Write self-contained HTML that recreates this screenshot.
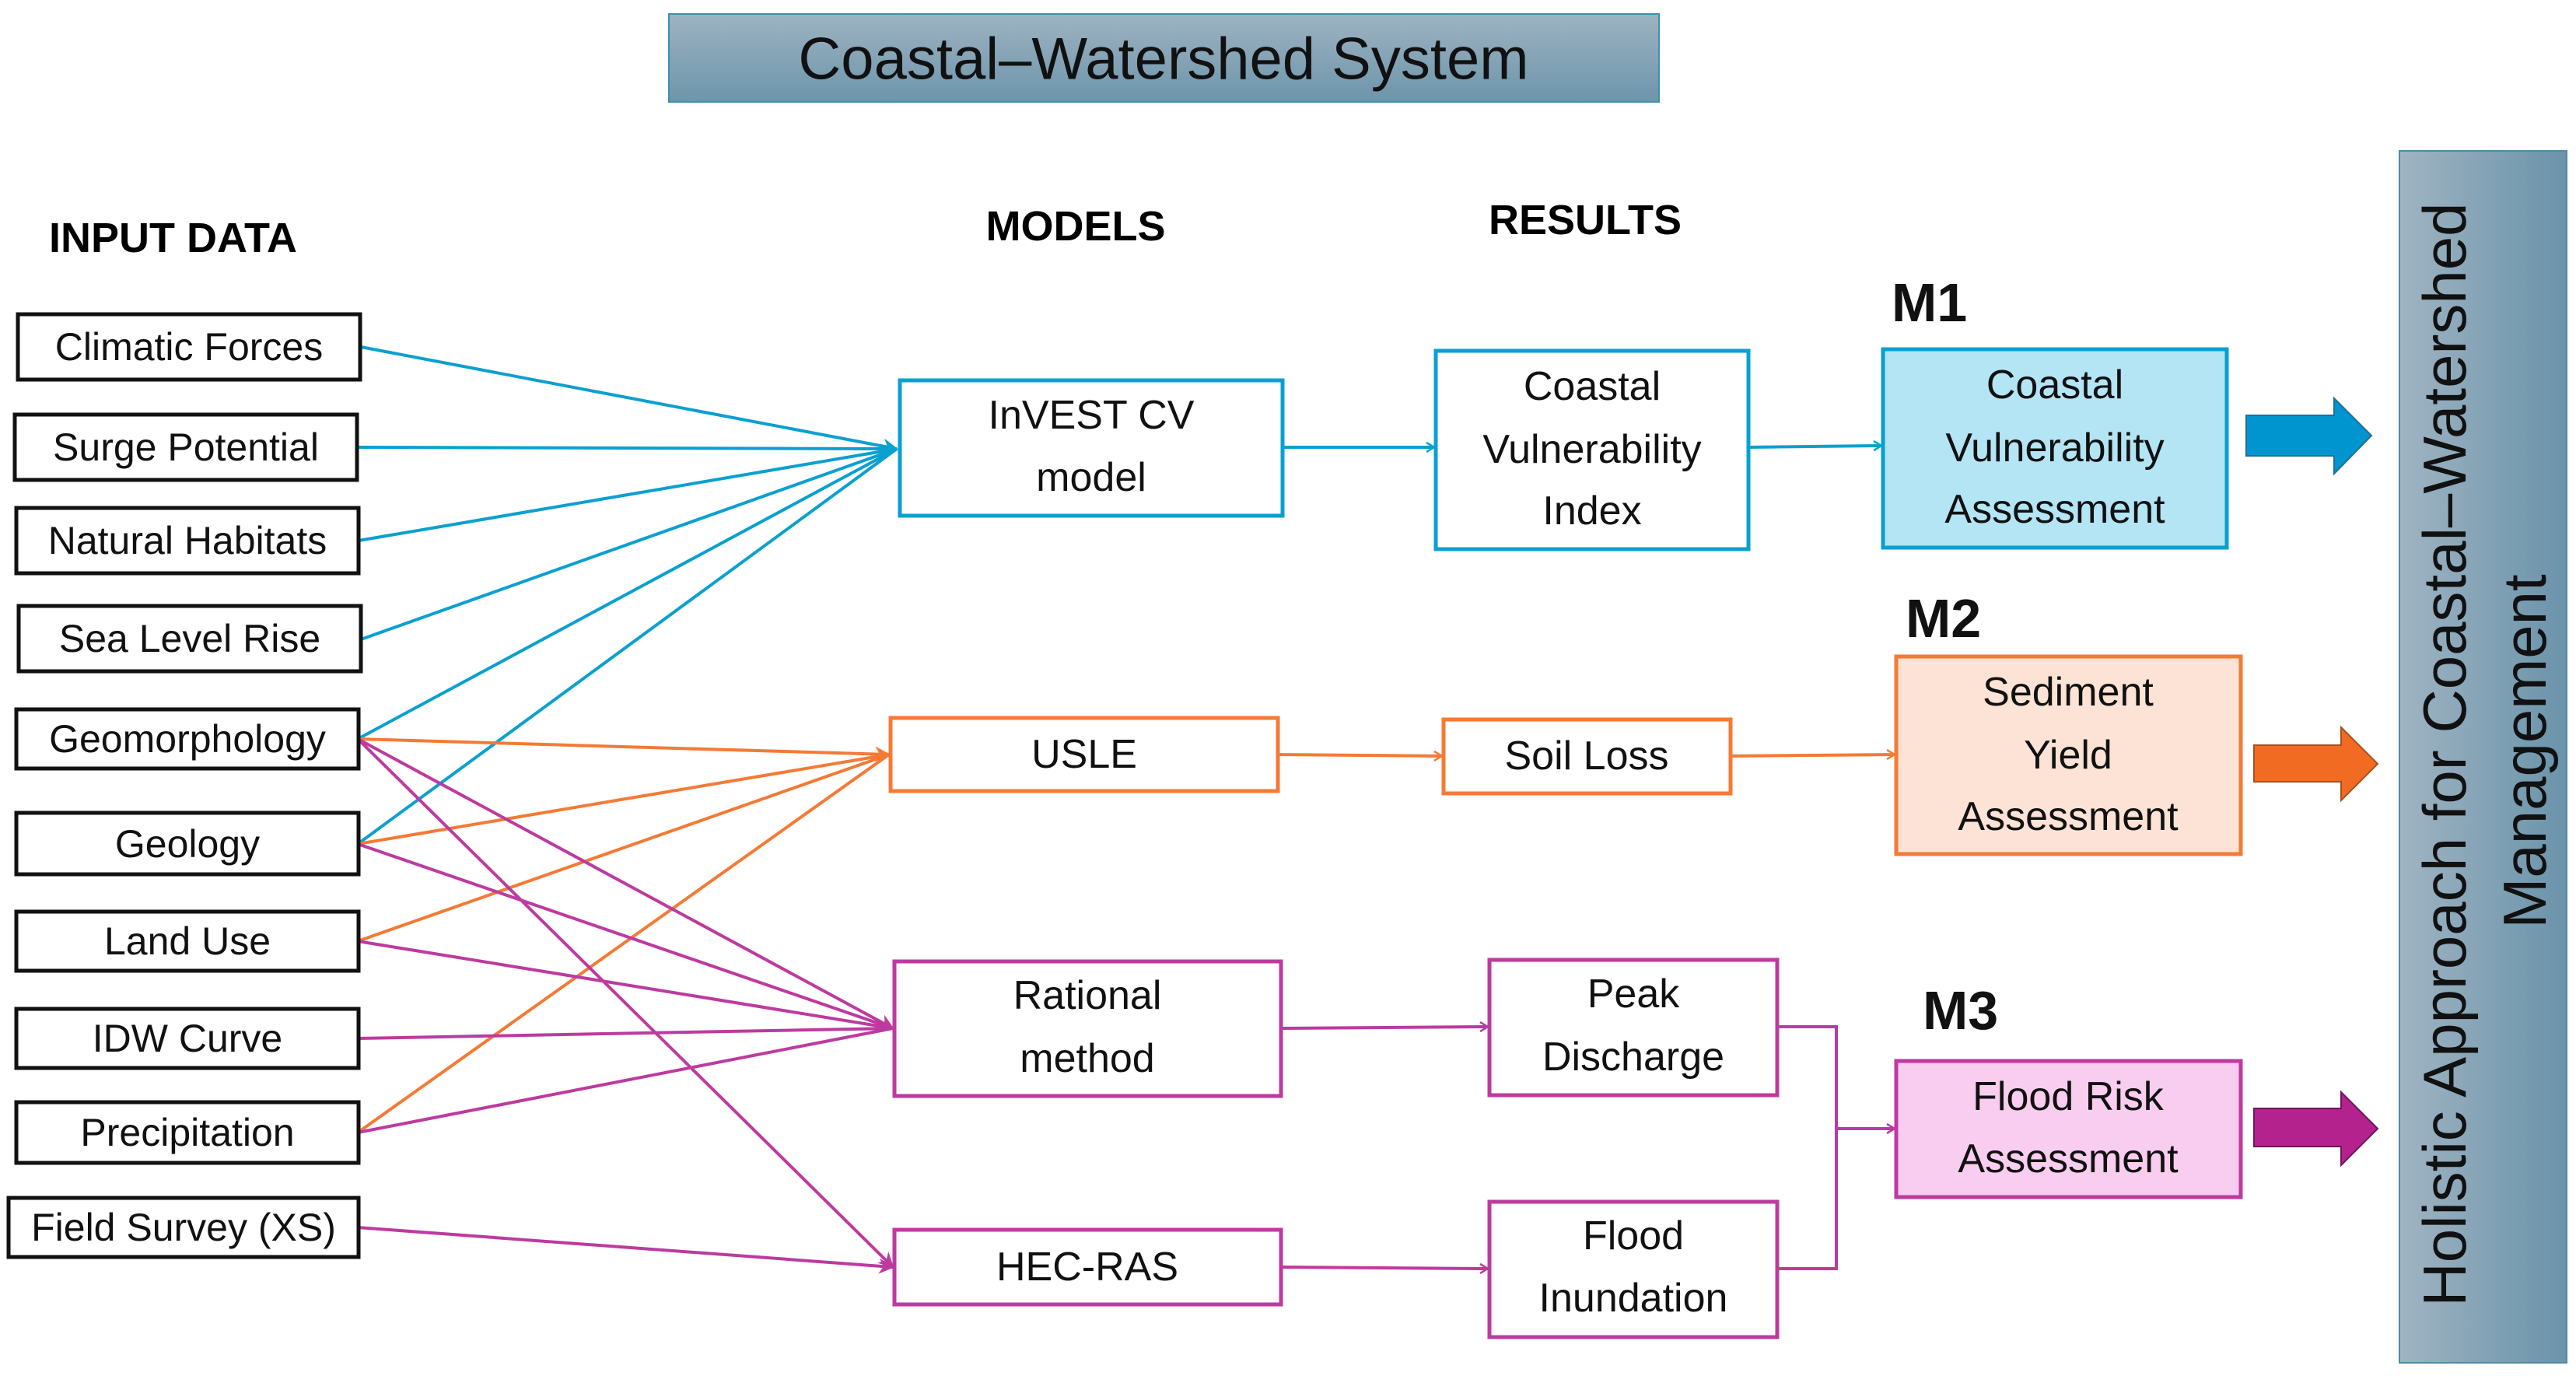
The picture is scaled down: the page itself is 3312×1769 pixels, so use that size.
<!DOCTYPE html>
<html><head><meta charset="utf-8"><style>
html,body{margin:0;padding:0;background:#fff;}
svg{display:block;}
text{font-family:"Liberation Sans",Arial,sans-serif;}
</style></head><body>
<svg width="3312" height="1769" viewBox="0 0 3312 1769" xmlns="http://www.w3.org/2000/svg">
<defs>
<linearGradient id="tg" x1="0" y1="0" x2="0" y2="1"><stop offset="0" stop-color="#9db3c1"/><stop offset="1" stop-color="#6d95ab"/></linearGradient>
<linearGradient id="rg" x1="0" y1="0" x2="1" y2="0"><stop offset="0" stop-color="#9fb4c2"/><stop offset="1" stop-color="#6a93aa"/></linearGradient>
<marker id="ab" markerWidth="14" markerHeight="14" refX="12" refY="7" orient="auto" markerUnits="userSpaceOnUse" viewBox="0 0 14 14"><path d="M2,1 L12,7 L2,13" fill="none" stroke="#0aa0d0" stroke-width="2.5"/></marker>
<marker id="ao" markerWidth="14" markerHeight="14" refX="12" refY="7" orient="auto" markerUnits="userSpaceOnUse" viewBox="0 0 14 14"><path d="M2,1 L12,7 L2,13" fill="none" stroke="#f47a35" stroke-width="2.5"/></marker>
<marker id="ap" markerWidth="14" markerHeight="14" refX="12" refY="7" orient="auto" markerUnits="userSpaceOnUse" viewBox="0 0 14 14"><path d="M2,1 L12,7 L2,13" fill="none" stroke="#bd3a9f" stroke-width="2.5"/></marker>
<marker id="abig" markerWidth="24" markerHeight="24" refX="20" refY="12" orient="auto" markerUnits="userSpaceOnUse" viewBox="0 0 24 24"><path d="M2,2 L22,12 L2,22 L8,12 Z" fill="#0aa0d0"/></marker>
<marker id="pbig" markerWidth="24" markerHeight="24" refX="20" refY="12" orient="auto" markerUnits="userSpaceOnUse" viewBox="0 0 24 24"><path d="M2,2 L22,12 L2,22 L8,12 Z" fill="#bd3a9f"/></marker>
<marker id="obig" markerWidth="24" markerHeight="24" refX="20" refY="12" orient="auto" markerUnits="userSpaceOnUse" viewBox="0 0 24 24"><path d="M2,2 L22,12 L2,22 L8,12 Z" fill="#f47a35"/></marker>
</defs>

<rect x="860" y="18" width="1273" height="113" fill="url(#tg)" stroke="#3f8fb0" stroke-width="2"/>
<text x="1496" y="76" font-size="76" text-anchor="middle" dominant-baseline="central" fill="#111">Coastal–Watershed System</text>

<text x="63" y="306" font-size="54" font-weight="bold" dominant-baseline="central">INPUT DATA</text>
<text x="1383" y="291" font-size="54" font-weight="bold" text-anchor="middle" dominant-baseline="central">MODELS</text>
<text x="2038" y="283" font-size="54" font-weight="bold" text-anchor="middle" dominant-baseline="central">RESULTS</text>

<g stroke="#0aa0d0" stroke-width="4" fill="none">
<line x1="464" y1="446" x2="1153" y2="577" marker-end="url(#abig)"/>
<line x1="459" y1="575" x2="1153" y2="577"/>
<line x1="461" y1="695" x2="1153" y2="577"/>
<line x1="464" y1="822" x2="1153" y2="577"/>
<line x1="460" y1="950" x2="1153" y2="577"/>
<line x1="460" y1="1085" x2="1153" y2="577"/>
<line x1="1647" y1="575" x2="1844" y2="575" marker-end="url(#ab)"/>
<line x1="2248" y1="575" x2="2419" y2="573" marker-end="url(#ab)"/>
</g>
<g stroke="#f47a35" stroke-width="4" fill="none">
<line x1="460" y1="950" x2="1143" y2="970" marker-end="url(#obig)"/>
<line x1="460" y1="1085" x2="1143" y2="970"/>
<line x1="460" y1="1210" x2="1143" y2="970"/>
<line x1="460" y1="1456" x2="1143" y2="970"/>
<line x1="1643" y1="970" x2="1854" y2="972" marker-end="url(#ao)"/>
<line x1="2225" y1="972" x2="2436" y2="970" marker-end="url(#ao)"/>
</g>
<g stroke="#bd3a9f" stroke-width="4" fill="none">
<line x1="460" y1="950" x2="1148" y2="1322" marker-end="url(#pbig)"/>
<line x1="460" y1="1085" x2="1148" y2="1322"/>
<line x1="460" y1="1210" x2="1148" y2="1322"/>
<line x1="460" y1="1335" x2="1148" y2="1322"/>
<line x1="460" y1="1456" x2="1148" y2="1322"/>
<line x1="460" y1="950" x2="1148" y2="1629" marker-end="url(#pbig)"/>
<line x1="460" y1="1578" x2="1148" y2="1629" marker-end="url(#pbig)"/>
<line x1="1647" y1="1322" x2="1913" y2="1320" marker-end="url(#ap)"/>
<line x1="1647" y1="1629" x2="1913" y2="1631" marker-end="url(#ap)"/>
<polyline points="2285,1320 2361,1320 2361,1631 2285,1631"/>
<line x1="2361" y1="1451" x2="2436" y2="1451" marker-end="url(#ap)"/>
</g>

<g stroke="#111" stroke-width="5" fill="#fff">
<rect x="23" y="404" width="440" height="84"/>
<rect x="19" y="533" width="440" height="84"/>
<rect x="21" y="653" width="440" height="84"/>
<rect x="24" y="779" width="440" height="84"/>
<rect x="21" y="912" width="440" height="76"/>
<rect x="21" y="1045" width="440" height="79"/>
<rect x="21" y="1172" width="440" height="76"/>
<rect x="21" y="1297" width="440" height="76"/>
<rect x="21" y="1417" width="440" height="78"/>
<rect x="11" y="1540" width="450" height="76"/>
</g>
<g font-size="50" text-anchor="middle" dominant-baseline="central" fill="#111">
<text x="243" y="446">Climatic Forces</text>
<text x="239" y="575">Surge Potential</text>
<text x="241" y="695">Natural Habitats</text>
<text x="244" y="821">Sea Level Rise</text>
<text x="241" y="950">Geomorphology</text>
<text x="241" y="1085">Geology</text>
<text x="241" y="1210">Land Use</text>
<text x="241" y="1335">IDW Curve</text>
<text x="241" y="1456">Precipitation</text>
<text x="236" y="1578">Field Survey (XS)</text>
</g>

<g stroke-width="5" fill="#fff">
<rect x="1157" y="489" width="492" height="174" stroke="#0aa0d0"/>
<rect x="1846" y="451" width="402" height="255" stroke="#0aa0d0"/>
<rect x="2421" y="449" width="442" height="255" stroke="#0aa0d0" fill="#b3e5f5"/>
<rect x="1145" y="923" width="498" height="94" stroke="#f47a35"/>
<rect x="1856" y="925" width="369" height="95" stroke="#f47a35"/>
<rect x="2438" y="844" width="443" height="254" stroke="#f47a35" fill="#fde3d5"/>
<rect x="1150" y="1236" width="497" height="173" stroke="#bd3a9f"/>
<rect x="1150" y="1581" width="497" height="96" stroke="#bd3a9f"/>
<rect x="1915" y="1234" width="370" height="174" stroke="#bd3a9f"/>
<rect x="1915" y="1545" width="370" height="174" stroke="#bd3a9f"/>
<rect x="2438" y="1364" width="443" height="175" stroke="#bd3a9f" fill="#f9cdef"/>
</g>
<g font-size="52" text-anchor="middle" dominant-baseline="central" fill="#111">
<text x="1403" y="534">InVEST CV</text><text x="1403" y="614">model</text>
<text x="2047" y="497">Coastal</text><text x="2047" y="578">Vulnerability</text><text x="2047" y="657">Index</text>
<text x="2642" y="495">Coastal</text><text x="2642" y="576">Vulnerability</text><text x="2642" y="655">Assessment</text>
<text x="1394" y="970">USLE</text>
<text x="2040" y="972">Soil Loss</text>
<text x="2659" y="890">Sediment</text><text x="2659" y="971">Yield</text><text x="2659" y="1050">Assessment</text>
<text x="1398" y="1280">Rational</text><text x="1398" y="1361">method</text>
<text x="1398" y="1629">HEC-RAS</text>
<text x="2100" y="1278">Peak</text><text x="2100" y="1359">Discharge</text>
<text x="2100" y="1589">Flood</text><text x="2100" y="1669">Inundation</text>
<text x="2659" y="1410">Flood Risk</text><text x="2659" y="1490">Assessment</text>
</g>

<g font-size="70" font-weight="bold" fill="#111">
<text x="2432" y="413">M1</text>
<text x="2450" y="819">M2</text>
<text x="2472" y="1323">M3</text>
</g>

<polygon points="2888,534 3001,534 3001,512 3049,560 3001,609 3001,586 2888,586" fill="#0095cf" stroke="#1d6f99" stroke-width="2"/>
<polygon points="2898,958 3010,958 3010,935 3057,982 3010,1029 3010,1005 2898,1005" fill="#f26b22" stroke="#a8501b" stroke-width="2"/>
<polygon points="2898,1425 3010,1425 3010,1404 3057,1451 3010,1498 3010,1474 2898,1474" fill="#b3228d" stroke="#6f1657" stroke-width="2"/>

<rect x="3085" y="194" width="215" height="1558" fill="url(#rg)" stroke="#4d8aa9" stroke-width="2"/>
<g font-size="78" text-anchor="middle" dominant-baseline="central" fill="#111">
<text transform="translate(3143,970) rotate(-90)">Holistic Approach for Coastal–Watershed</text>
<text transform="translate(3246,966) rotate(-90)">Management</text>
</g>
</svg>
</body></html>
